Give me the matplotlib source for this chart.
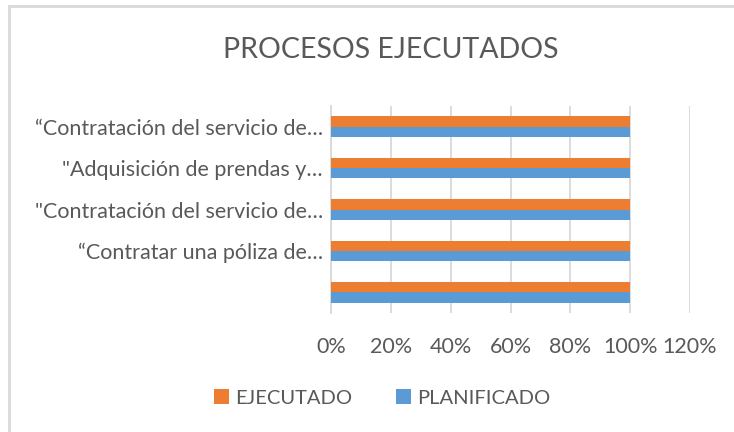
import matplotlib
matplotlib.use("Agg")
import matplotlib.pyplot as plt
from matplotlib.patches import Rectangle
from matplotlib.ticker import PercentFormatter

# categories bottom -> top (first one has no label)
categories = [
    "",
    "\u201cContratar una póliza de\u2026",
    "\"Contratación del servicio de\u2026",
    "\"Adquisición de prendas y\u2026",
    "\u201cContratación del servicio de\u2026",
]
ejecutado = [100, 100, 100, 100, 100]
planificado = [100, 100, 100, 100, 100]
x_ticks = [0, 20, 40, 60, 80, 100, 120]

ORANGE = "#ED7D31"
BLUE = "#5B9BD5"
GRID = "#D9D9D9"
TEXT = "#595959"

plt.rcParams["font.family"] = ["Lato", "DejaVu Sans"]

fig = plt.figure(figsize=(7.34, 4.32), dpi=100)
ax = fig.add_axes([331 / 734, 1 - 313 / 432, (690 - 331) / 734, (313 - 106) / 432])

ypos = list(range(len(categories)))
h = 0.25
ax.barh([y + h / 2 for y in ypos], ejecutado, height=h, color=ORANGE, label="EJECUTADO", zorder=3)
ax.barh([y - h / 2 for y in ypos], planificado, height=h, color=BLUE, label="PLANIFICADO", zorder=3)

ax.set_xlim(0, 120)
ax.set_ylim(-0.5, len(categories) - 0.5)
ax.set_xticks(x_ticks)
ax.xaxis.set_major_formatter(PercentFormatter(decimals=0))
ax.set_yticks(ypos)
ax.set_yticklabels(categories)
ax.grid(axis="x", color=GRID, linewidth=1.3, zorder=0)
for s in ["top", "right", "bottom"]:
    ax.spines[s].set_visible(False)
ax.spines["left"].set_color(GRID)
ax.spines["left"].set_linewidth(1.3)
ax.tick_params(axis="both", length=0, labelsize=15.5, labelcolor=TEXT)
ax.tick_params(axis="x", pad=17)
ax.tick_params(axis="y", pad=6)

fig.text(391 / 734, 1 - 50 / 432, "PROCESOS EJECUTADOS", ha="center", va="center",
         fontsize=20.5, color=TEXT)

handles, labels = ax.get_legend_handles_labels()
fig.legend(handles, labels, loc="center", bbox_to_anchor=(382 / 734, 1 - 398 / 432),
           ncol=2, frameon=False, fontsize=14.5, labelcolor=TEXT,
           handlelength=0.75, handleheight=0.75, handletextpad=0.3, columnspacing=2.2)

# light frame round the chart area
fig.patches.append(Rectangle((9 / 734, -0.1), 2, 1 - 6 / 432 + 0.1, transform=fig.transFigure,
                             fill=False, edgecolor="#D9D9D9", linewidth=2))

fig.savefig("out.png", dpi=100)
